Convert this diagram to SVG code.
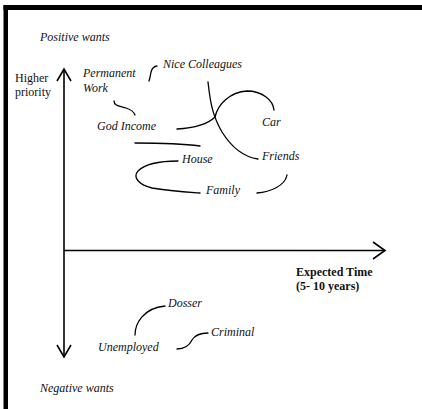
<svg xmlns="http://www.w3.org/2000/svg" width="422" height="409" viewBox="0 0 422 409">
  <style>
    .lbl { font-family: "Liberation Serif", "Times New Roman", serif; font-size: 12px; font-style: italic; fill: #111; }
    .axis-lbl { font-family: "Liberation Serif", "Times New Roman", serif; font-size: 12px; fill: #111; }
    .bold { font-weight: bold; font-style: normal; }
    .axis { stroke: #000; stroke-width: 1.6; fill: none; }
    .link { stroke: #000; stroke-width: 1.3; fill: none; stroke-linecap: round; }
  </style>
  <rect x="0" y="0" width="422" height="409" fill="#fff"/>
  <!-- frame edges -->
  <rect x="3.5" y="5" width="4.5" height="404" fill="#000"/>
  <rect x="3.5" y="5" width="418.5" height="5" fill="#000"/>

  <!-- axes -->
  <g id="axes">
    <line class="axis" x1="64" y1="69" x2="64" y2="357"/>
    <polyline class="axis" points="57,81 64,69 71,81"/>
    <polyline class="axis" points="57,345 64,357 71,345"/>
    <line class="axis" x1="64" y1="250.5" x2="385" y2="250.5"/>
    <polyline class="axis" points="373,242 385,250.5 373,259"/>
  </g>

  <!-- connectors -->
  <g id="connectors">
    <path class="link" d="M149,81 C151,76 150,71 153,68 C154,67 156,66 157,66"/>
    <path class="link" d="M114,101 C114,106 120,106 126,108 C132,110 134,112 135,115"/>
    <path class="link" d="M177,129 C195,128 208,124 215,117 C218,104 230,92 247,91 C262,91 273,100 274,110"/>
    <path class="link" d="M208,82 C210,100 212,115 222,132 C232,148 244,157 258,159"/>
    <path class="link" d="M135,143 C160,143 185,144 200,146"/>
    <path class="link" d="M178,161 C160,161 145,164 138,171 C132,178 140,185 152,188 C168,191 185,192 200,193"/>
    <path class="link" d="M257,193 C270,192 285,186 287,175"/>
    <path class="link" d="M135,335 C135,324 143,308 165,306"/>
    <path class="link" d="M177,349 C185,349 189,346 192,340 C195,335 201,333 208,333"/>
  </g>

  <!-- axis labels -->
  <g id="positive">
    <text class="lbl" x="40" y="41">Positive wants</text>
  </g>
  <g id="priority">
    <text class="axis-lbl" x="15" y="82">Higher</text>
    <text class="axis-lbl" x="15" y="96">priority</text>
  </g>
  <g id="time">
    <text class="axis-lbl bold" x="296" y="276">Expected Time</text>
    <text class="axis-lbl bold" x="296" y="290">(5- 10 years)</text>
  </g>
  <g id="negative">
    <text class="lbl" x="40" y="392">Negative wants</text>
  </g>

  <!-- wants -->
  <g id="permanent-work">
    <text class="lbl" x="83" y="77">Permanent</text>
    <text class="lbl" x="83" y="92">Work</text>
  </g>
  <g id="nice-colleagues"><text class="lbl" x="163" y="68">Nice Colleagues</text></g>
  <g id="god-income"><text class="lbl" x="97" y="130">God Income</text></g>
  <g id="car"><text class="lbl" x="262" y="126">Car</text></g>
  <g id="friends"><text class="lbl" x="262" y="160">Friends</text></g>
  <g id="house"><text class="lbl" x="182" y="163">House</text></g>
  <g id="family"><text class="lbl" x="206" y="194">Family</text></g>
  <g id="dosser"><text class="lbl" x="168" y="307">Dosser</text></g>
  <g id="unemployed"><text class="lbl" x="98" y="351">Unemployed</text></g>
  <g id="criminal"><text class="lbl" x="211" y="336">Criminal</text></g>
</svg>
